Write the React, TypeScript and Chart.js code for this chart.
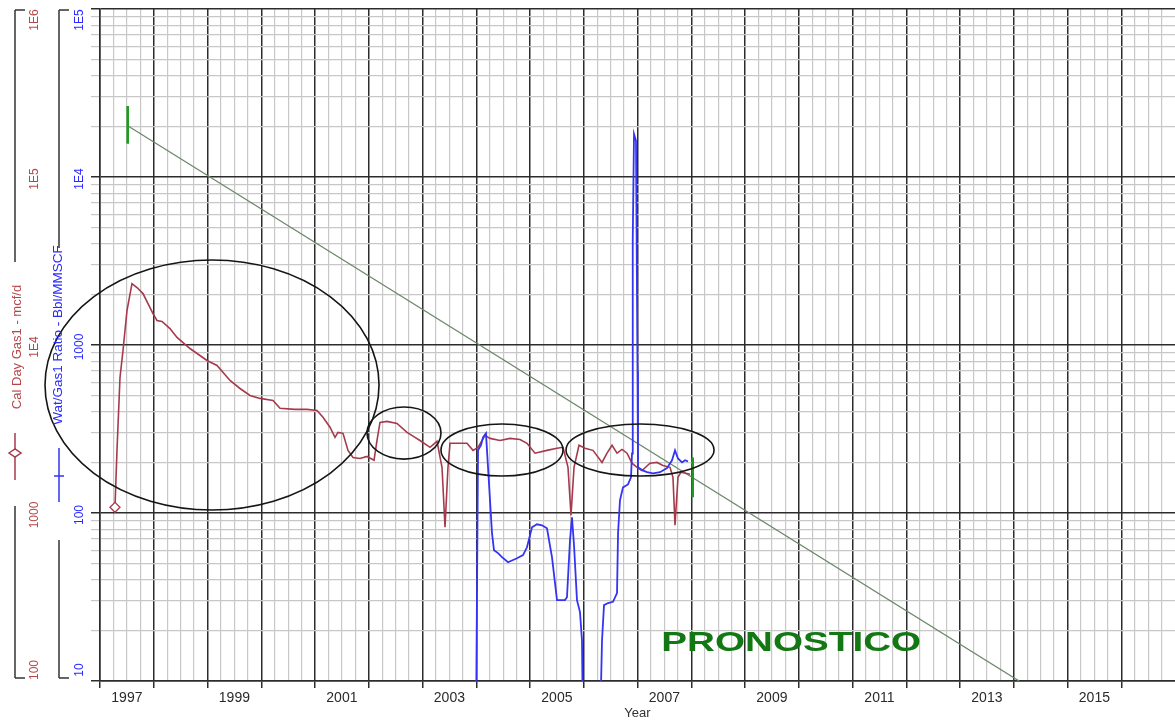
import React, { useEffect, useRef } from 'react';
import { Chart, registerables } from 'chart.js';

Chart.register(...registerables);

// ---------- DATA ----------
const gasYears = [
  1997.279, 1997.316, 1997.372, 1997.428, 1997.502, 1997.595, 1997.688, 1997.8, 1997.893, 1997.986,
  1998.06, 1998.153, 1998.302, 1998.433, 1998.674, 1998.991, 1999.177, 1999.419, 1999.605, 1999.791,
  1999.977, 2000.219, 2000.349, 2000.628, 2000.851, 2001.037, 2001.149, 2001.279, 2001.372, 2001.428,
  2001.521, 2001.614, 2001.707, 2001.837, 2001.967, 2002.098, 2002.153, 2002.209, 2002.34, 2002.526,
  2002.712, 2002.86, 2002.953, 2003.14, 2003.27, 2003.363, 2003.419, 2003.474, 2003.512, 2003.698,
  2003.828, 2003.94, 2004.033, 2004.163, 2004.256, 2004.442, 2004.628, 2004.814, 2004.944, 2005.093,
  2005.316, 2005.502, 2005.614, 2005.707, 2005.763, 2005.819, 2005.912, 2006.023, 2006.172, 2006.34,
  2006.433, 2006.526, 2006.619, 2006.712, 2006.805, 2006.898, 2006.991, 2007.084, 2007.233, 2007.363,
  2007.474, 2007.605, 2007.66, 2007.698, 2007.753, 2007.809, 2007.977,
];
const gasRates = [
  1081, 2360, 6410, 9270, 16030, 23200, 21980, 20230, 17650, 15380,
  14000, 13800, 12530, 11090, 9530, 8090, 7550, 6150, 5510, 5010,
  4810, 4680, 4200, 4140, 4140, 4080, 3710, 3240, 2820, 3020,
  2980, 2360, 2140, 2110, 2170, 2060, 2700, 3460, 3510, 3410,
  3020, 2820, 2700, 2460, 2670, 1870, 822, 1870, 2600, 2600,
  2600, 2360, 2460, 2900, 2780, 2700, 2780, 2740, 2600, 2270,
  2360, 2430, 2460, 1870, 971, 1870, 2530, 2430, 2360, 2000,
  2270, 2530, 2270, 2390, 2270, 1980, 1870, 1790, 1980, 2000,
  1920, 1870, 1630, 846, 1630, 1750, 1700,
];

const watYears = [
  2003.995, 2004.033, 2004.088, 2004.126, 2004.181, 2004.219, 2004.256, 2004.293, 2004.33, 2004.405,
  2004.479, 2004.591, 2004.758, 2004.87, 2004.944, 2005.037, 2005.13, 2005.223, 2005.316, 2005.409,
  2005.502, 2005.651, 2005.688, 2005.744, 2005.781, 2005.819, 2005.874, 2005.93, 2005.967, 2005.986,
  2006.302, 2006.34, 2006.377, 2006.451, 2006.544, 2006.619, 2006.638, 2006.674, 2006.73, 2006.823,
  2006.879, 2006.898, 2006.907, 2006.916, 2006.935, 2006.972, 2007.0, 2007.009, 2007.084, 2007.177,
  2007.288, 2007.419, 2007.549, 2007.642, 2007.698, 2007.753, 2007.828, 2007.884, 2007.94,
];
const watRatios = [
  5, 236, 253, 282, 298, 187, 119, 75.8, 60.1, 57.7,
  54.6, 50.9, 53.8, 56.1, 62.5, 82.2, 85.7, 84.5, 81.1, 54.6,
  30.3, 30.3, 31.5, 68.8, 94.4, 64.3, 30.3, 25.7, 17.5, 5,
  5, 17.5, 28.3, 29.1, 29.6, 33.4, 75.8, 119, 142, 148,
  163, 226, 933, 4180, 18000, 16400, 705, 187, 180, 175,
  172, 175, 185, 206, 236, 211, 200, 206, 203,
];

const forecastYears = [1997.515, 2014.1];
const forecastRates = [201700, 100];

const startMarkYears = [1997.515, 1997.515];
const startMarkRates = [265000, 157600];
const endMarkYears = [2008.027, 2008.027];
const endMarkRates = [2140, 1240];

const yearTicks = [1997, 1998, 1999, 2000, 2001, 2002, 2003, 2004, 2005, 2006, 2007, 2008, 2009, 2010, 2011, 2012, 2013, 2014, 2015, 2016];
const yearLabels = ['1997', '1999', '2001', '2003', '2005', '2007', '2009', '2011', '2013', '2015'];

const gasTickValues = [100, 1000, 10000, 100000, 1000000];
const gasTickLabels = ['100', '1000', '1E4', '1E5', '1E6'];
const watTickValues = [10, 100, 1000, 10000, 100000];
const watTickLabels = ['10', '100', '1000', '1E4', '1E5'];

const gasTitle = 'Cal Day Gas1 - mcf/d';
const watTitle = 'Wat/Gas1 Ratio - Bbl/MMSCF';
const xTitle = 'Year';

// hand-drawn annotation ellipses (data units: years / gas rate / decades)
const ovalYears = [1999.084, 2002.656, 2004.479, 2007.047];
const ovalHalfYears = [3.107, 0.688, 1.135, 1.377];
const ovalRates = [5781, 2992, 2371, 2371];
const ovalHalfDecades = [0.744, 0.155, 0.155, 0.155];

const noteText = 'PRONOSTICO';
const noteYear = 2009.86;
const noteRate = 151;

// ---------- STYLE ----------
const MAJOR = '#2c2c2c';
const MINOR = '#c8c8c8';
const GAS_COLOR = '#a63a4c';
const WAT_COLOR = '#3434f4';
const GAS_TEXT = '#b4474a';
const WAT_TEXT = '#2a2aff';
const FONT = "'Liberation Sans', Arial, sans-serif";

function isDecade(v: number) {
  const l = Math.log10(v);
  return Math.abs(l - Math.round(l)) < 1e-6;
}
function logTicks(min: number, max: number) {
  const out: number[] = [];
  const e0 = Math.round(Math.log10(min));
  const e1 = Math.round(Math.log10(max));
  for (let e = e0; e < e1; e++) for (let m = 1; m <= 9; m++) out.push(m * Math.pow(10, e));
  out.push(max);
  return out;
}
function quarterTicks() {
  const out: number[] = [];
  for (let y = 1997; y < 2017; y++) for (let q = 1; q <= 3; q++) out.push(y + q * 0.25);
  return out;
}
function pts(xs: number[], ys: number[]) {
  return xs.map((x, i) => ({ x, y: ys[i] }));
}

function rotText(ctx: CanvasRenderingContext2D, text: string, x: number, y: number, font: string, color: string) {
  ctx.save();
  ctx.translate(x, y);
  ctx.rotate(-Math.PI / 2);
  ctx.font = font;
  ctx.fillStyle = color;
  ctx.textAlign = 'center';
  ctx.textBaseline = 'middle';
  ctx.fillText(text, 0, 0);
  ctx.restore();
}

const decorPlugin = {
  id: 'decor',
  afterDatasetsDraw(chart: any) {
    const ctx: CanvasRenderingContext2D = chart.ctx;
    const xs = chart.scales.x;
    const yg = chart.scales.yGas;
    // annotation ellipses
    ctx.save();
    ctx.strokeStyle = '#151515';
    ctx.lineWidth = 1.6;
    for (let i = 0; i < ovalYears.length; i++) {
      const cx = xs.getPixelForValue(ovalYears[i]);
      const rx = Math.abs(xs.getPixelForValue(ovalYears[i] + ovalHalfYears[i]) - cx);
      const cy = yg.getPixelForValue(ovalRates[i]);
      const ry = Math.abs(yg.getPixelForValue(ovalRates[i] * Math.pow(10, ovalHalfDecades[i])) - cy);
      ctx.beginPath();
      ctx.ellipse(cx, cy, rx, ry, 0, 0, Math.PI * 2);
      ctx.stroke();
    }
    ctx.restore();
    // PRONOSTICO note
    ctx.save();
    ctx.translate(xs.getPixelForValue(noteYear), yg.getPixelForValue(noteRate));
    ctx.scale(1.38, 1);
    ctx.font = `bold 28px ${FONT}`;
    ctx.fillStyle = '#137813';
    ctx.textAlign = 'center';
    ctx.textBaseline = 'alphabetic';
    ctx.fillText(noteText, 0, 0);
    ctx.restore();
  },
  afterDraw(chart: any) {
    const ctx: CanvasRenderingContext2D = chart.ctx;
    const { left, top, bottom } = chart.chartArea;
    const yg = chart.scales.yGas;
    const yw = chart.scales.yWat;
    const redX = left - 85;
    const blueX = left - 41;
    const t0 = top + 1;
    const b0 = bottom - 3;

    ctx.save();
    ctx.strokeStyle = '#333';
    ctx.lineWidth = 1.5;
    const seg = (x1: number, y1: number, x2: number, y2: number) => {
      ctx.beginPath();
      ctx.moveTo(x1, y1);
      ctx.lineTo(x2, y2);
      ctx.stroke();
    };
    // red (gas) axis bracket, broken for title
    seg(redX + 10, t0, redX, t0);
    seg(redX, t0, redX, 262);
    seg(redX, 506, redX, b0);
    seg(redX, b0, redX + 10, b0);
    // blue (water) axis bracket
    seg(blueX + 10, t0, blueX, t0);
    seg(blueX, t0, blueX, 248);
    seg(blueX, 540, blueX, b0);
    seg(blueX, b0, blueX + 10, b0);
    ctx.restore();

    // tick labels
    const lblFont = `12px ${FONT}`;
    const clampY = (y: number) => Math.min(bottom - 11, Math.max(top + 11, y));
    gasTickValues.forEach((v, i) => {
      rotText(ctx, gasTickLabels[i], left - 65, clampY(yg.getPixelForValue(v) + 2), lblFont, GAS_TEXT);
    });
    watTickValues.forEach((v, i) => {
      rotText(ctx, watTickLabels[i], left - 20, clampY(yw.getPixelForValue(v) + 2), lblFont, WAT_TEXT);
    });

    // axis titles
    rotText(ctx, gasTitle, redX + 2, 347, `13px ${FONT}`, GAS_TEXT);
    rotText(ctx, watTitle, blueX - 1, 335, `13.5px ${FONT}`, WAT_TEXT);

    // legend glyphs
    ctx.save();
    ctx.strokeStyle = GAS_COLOR;
    ctx.lineWidth = 1.5;
    ctx.beginPath();
    ctx.moveTo(redX, 433);
    ctx.lineTo(redX, 480);
    ctx.stroke();
    ctx.fillStyle = '#fff';
    ctx.beginPath();
    ctx.moveTo(redX - 6, 453);
    ctx.lineTo(redX, 449);
    ctx.lineTo(redX + 6, 453);
    ctx.lineTo(redX, 457);
    ctx.closePath();
    ctx.fill();
    ctx.stroke();
    ctx.strokeStyle = WAT_COLOR;
    ctx.beginPath();
    ctx.moveTo(blueX, 448);
    ctx.lineTo(blueX, 502);
    ctx.moveTo(blueX - 5, 476);
    ctx.lineTo(blueX + 5, 476);
    ctx.stroke();
    ctx.restore();
  },
};

export default function App() {
  const ref = useRef<HTMLCanvasElement | null>(null);

  useEffect(() => {
    if (!ref.current) return;
    Chart.defaults.font.family = FONT;
    const chart = new Chart(ref.current, {
      type: 'line',
      data: {
        datasets: [
          {
            label: 'Start marker',
            data: pts(startMarkYears, startMarkRates),
            yAxisID: 'yGas',
            borderColor: '#1f9a1f',
            borderWidth: 2.6,
            pointRadius: 0,
            order: 0,
          },
          {
            label: 'End marker',
            data: pts(endMarkYears, endMarkRates),
            yAxisID: 'yGas',
            borderColor: '#1f9a1f',
            borderWidth: 2.6,
            pointRadius: 0,
            order: 0,
          },
          {
            label: watTitle,
            data: pts(watYears, watRatios),
            yAxisID: 'yWat',
            borderColor: WAT_COLOR,
            borderWidth: 1.8,
            pointRadius: 0,
            tension: 0,
            order: 1,
          },
          {
            label: gasTitle,
            data: pts(gasYears, gasRates),
            yAxisID: 'yGas',
            borderColor: GAS_COLOR,
            borderWidth: 1.6,
            tension: 0,
            pointStyle: 'rectRot',
            pointRadius: (c: any) => (c.dataIndex === 0 ? 5 : 0),
            pointBackgroundColor: '#fff',
            pointBorderColor: GAS_COLOR,
            pointBorderWidth: 1.3,
            order: 2,
          },
          {
            label: 'Forecast',
            data: pts(forecastYears, forecastRates),
            yAxisID: 'yGas',
            borderColor: '#6d886d',
            borderWidth: 1.3,
            pointRadius: 0,
            order: 3,
          },
        ],
      },
      options: {
        responsive: true,
        maintainAspectRatio: false,
        animation: false,
        events: [],
        layout: { autoPadding: false, padding: { top: 9, left: 0, right: 0, bottom: 0 } },
        plugins: { legend: { display: false }, tooltip: { enabled: false } },
        scales: {
          x: {
            type: 'linear',
            position: 'bottom',
            min: 1997,
            max: 2017,
            afterBuildTicks: (s: any) => {
              s.ticks = yearTicks.map((v) => ({ value: v }));
            },
            afterFit: (s: any) => {
              s.height = 40;
            },
            grid: { color: MAJOR, lineWidth: 1.5, drawTicks: true, tickLength: 7, z: -1 },
            border: { display: true, color: MAJOR, width: 1.5 },
            ticks: {
              autoSkip: false,
              maxRotation: 0,
              minRotation: 0,
              labelOffset: 26.9,
              padding: 2,
              color: '#2a2a2a',
              font: { size: 14 },
              callback: (v: any) => (yearLabels.includes(String(v)) ? String(v) : ''),
            },
            title: { display: true, text: xTitle, color: '#333', font: { size: 13 }, padding: 0 },
          },
          xMinor: {
            type: 'linear',
            position: 'bottom',
            min: 1997,
            max: 2017,
            afterBuildTicks: (s: any) => {
              s.ticks = quarterTicks().map((v) => ({ value: v }));
            },
            afterFit: (s: any) => {
              s.height = 0;
            },
            grid: { color: MINOR, lineWidth: 1.2, drawTicks: false, z: -2 },
            border: { display: false },
            ticks: { display: false },
          },
          yGas: {
            type: 'logarithmic',
            position: 'left',
            min: 100,
            max: 1000000,
            afterBuildTicks: (s: any) => {
              s.ticks = logTicks(100, 1000000).map((v) => ({ value: v }));
            },
            afterFit: (s: any) => {
              s.width = 100;
            },
            grid: {
              color: (c: any) => (c.tick && isDecade(c.tick.value) ? MAJOR : MINOR),
              lineWidth: (c: any) => (c.tick && isDecade(c.tick.value) ? 1.5 : 1.2),
              drawTicks: true,
              tickLength: 9,
              z: -1,
            },
            border: { display: true, color: MAJOR, width: 1.5 },
            ticks: { display: false },
          },
          yWat: {
            type: 'logarithmic',
            position: 'right',
            min: 10,
            max: 100000,
            display: false,
          },
        },
      },
      plugins: [decorPlugin],
    } as any);
    return () => chart.destroy();
  }, []);

  return (
    <div style={{ position: 'absolute', left: 0, top: 0, width: 1175, height: 721, background: '#fff' }}>
      <canvas ref={ref} />
    </div>
  );
}
